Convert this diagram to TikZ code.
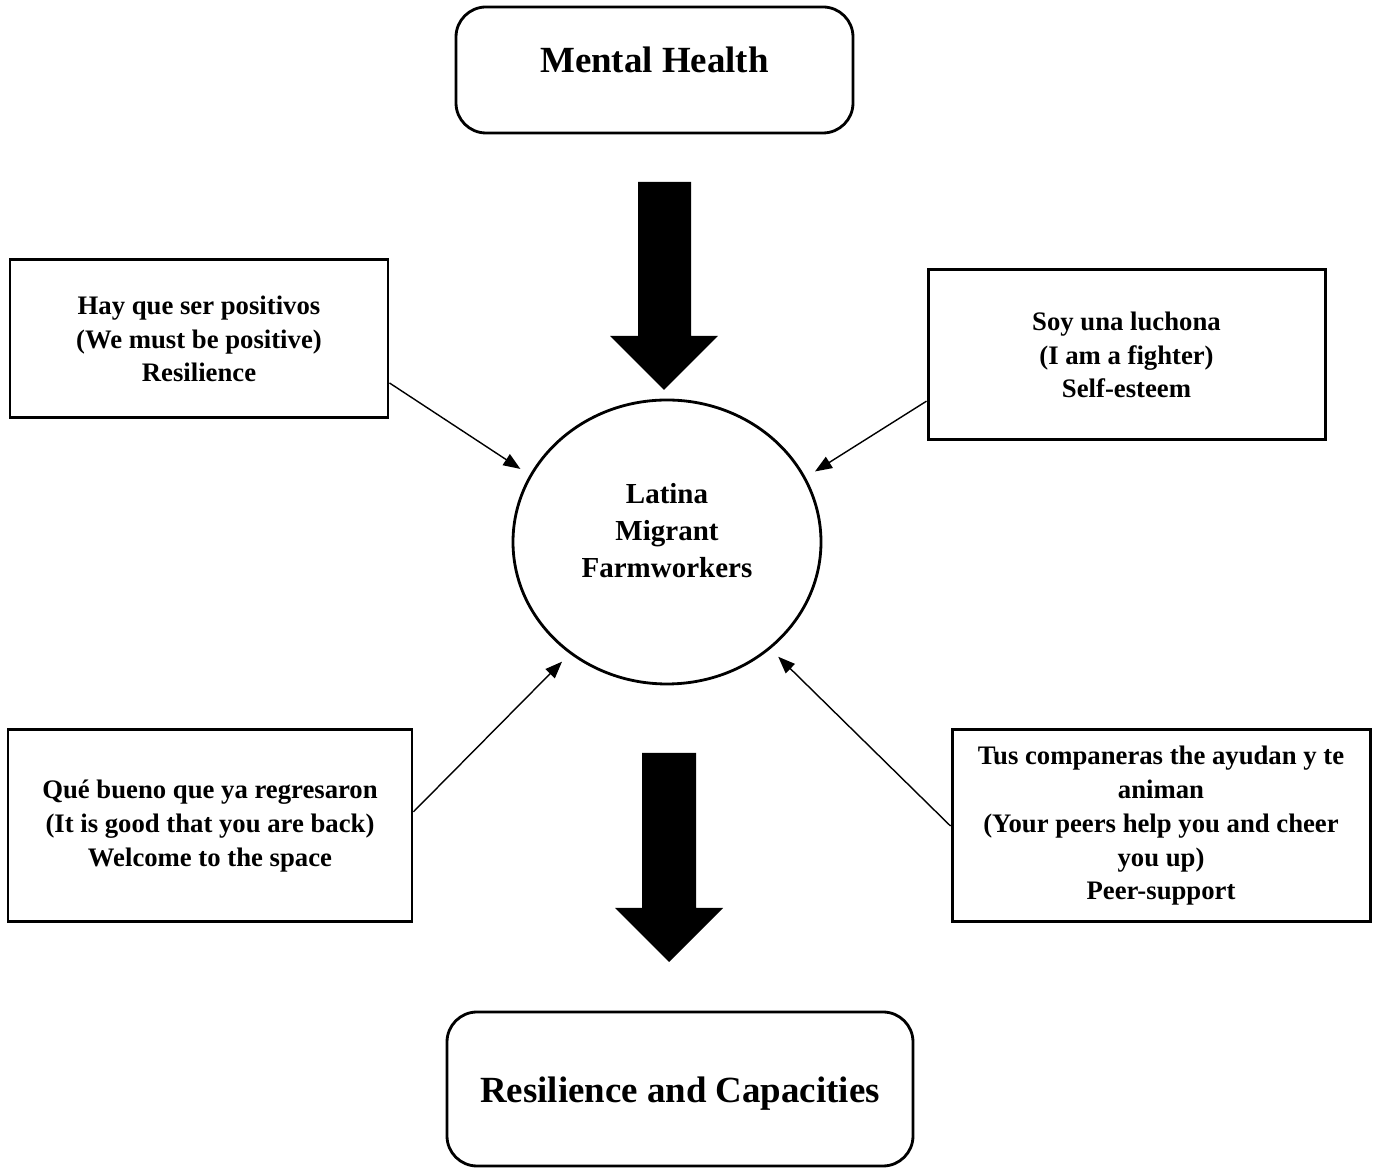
\documentclass[tikz,border=0pt]{standalone}
\usepackage{fontspec}
\setmainfont{Liberation Serif}
\usetikzlibrary{shapes.geometric}
\usetikzlibrary{arrows.meta}

\begin{document}
\begin{tikzpicture}[x=0.1mm,y=-0.1mm,
    quote/.style={draw,rectangle,line width=0.85pt,inner sep=0pt,align=center,font=\fontsize{7.6}{9.6}\selectfont\bfseries},
    outcome/.style={draw,rectangle,rounded corners=3mm,line width=0.8pt,inner sep=0pt,font=\fontsize{10.5}{12}\selectfont\bfseries},
    link/.style={-{Triangle[length=1.7mm,width=1.3mm]},line width=0.4pt,shorten >=1.1mm}]
        \useasboundingbox (0,0) rectangle (1378,1169);
        \node[outcome,minimum width=3.97cm,text height=6.6mm,text depth=6.0mm] (health) at (654.5,70) {Mental Health};
        \node[draw,ellipse,line width=0.8pt,inner sep=0pt,minimum width=3.08cm,minimum height=2.84cm,text depth=2.3mm,align=center,font=\fontsize{8.25}{10.5}\selectfont\bfseries] (workers) at (667,542) {Latina\\Migrant\\Farmworkers};
        \node[quote,minimum width=3.78cm,minimum height=1.58cm] (positive) at (199,339) {Hay que ser positivos\\(We must be positive)\\Resilience};
        \node[quote,minimum width=3.97cm,minimum height=1.70cm] (fighter) at (1126.5,355) {Soy una luchona\\(I am a fighter)\\Self-esteem};
        \node[quote,minimum width=4.04cm,minimum height=1.92cm] (welcome) at (210,826) {Qué bueno que ya regresaron\\(It is good that you are back)\\Welcome to the space};
        \node[quote,minimum width=4.18cm,minimum height=1.92cm] (peers) at (1161,826) {Tus companeras the ayudan y te\\animan\\(Your peers help you and cheer\\you up)\\Peer-support};
        \node[outcome,minimum width=4.66cm,text height=9.1mm,text depth=6.3mm] (capacities) at (680,1089) {Resilience and Capacities};
        % big arrows
        \fill (638,182) -- (691,182) -- (691,336) -- (718,336) -- (664,390) -- (610,336) -- (638,336) -- cycle;
        \fill (642,753) -- (696,753) -- (696,908) -- (723,908) -- (669,962) -- (615,908) -- (642,908) -- cycle;
        \draw[link] (positive.-13) -- (workers.154);
        \draw[link] (fighter.-167.5) -- (workers.25);
        \draw[link] (welcome.4) -- (workers.229);
        \draw[link] (peers.180) -- (workers.314);
    \end{tikzpicture}
\end{document}
